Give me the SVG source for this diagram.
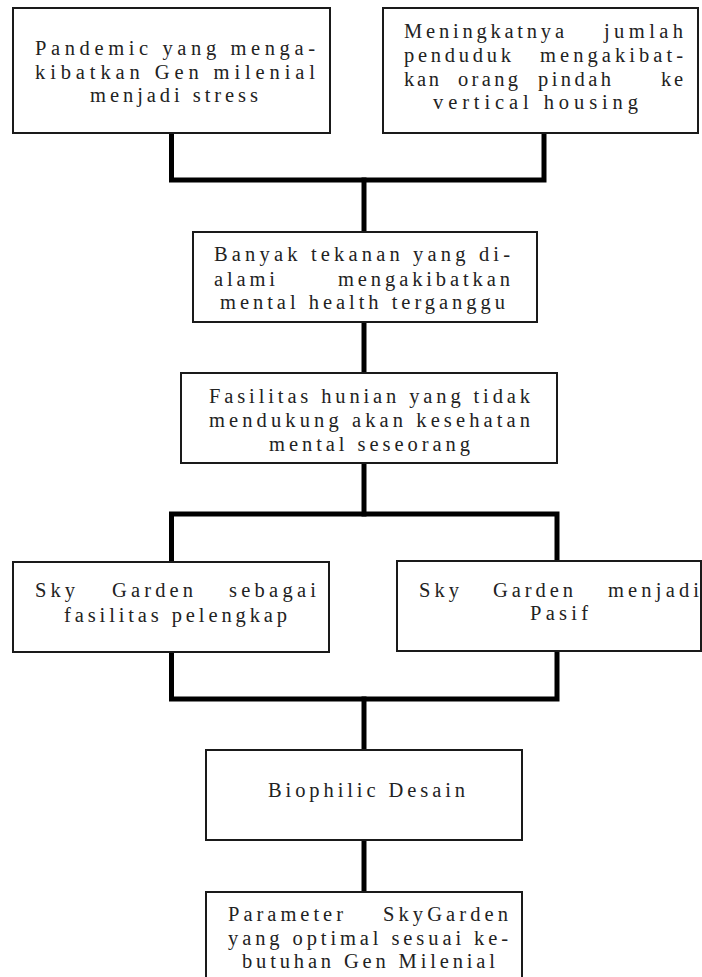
<svg xmlns="http://www.w3.org/2000/svg" width="702" height="977" viewBox="0 0 702 977">
<style>
.box{fill:#fff;stroke:#1a1a1a;stroke-width:2}
.t{font-family:"Liberation Serif","Times New Roman",serif;font-size:20.5px;fill:#222}
.c{fill:none;stroke:#000;stroke-width:5;stroke-linejoin:miter;stroke-linecap:square}
</style>
<rect width="702" height="977" fill="#fff"/>
<g id="connectors">
<polyline class="c" points="171.5,135 171.5,180 544,180 544,135"/>
<line class="c" x1="364" y1="180" x2="364" y2="230"/>
<line class="c" x1="364" y1="324" x2="364" y2="371"/>
<line class="c" x1="364" y1="465" x2="364" y2="514"/>
<polyline class="c" points="171.5,560 171.5,514 557,514 557,559"/>
<polyline class="c" points="171.5,654 171.5,699 557,699 557,653"/>
<line class="c" x1="364" y1="699" x2="364" y2="748"/>
<line class="c" x1="364" y1="842" x2="364" y2="890"/>
</g>
<g id="n1">
<rect class="box" x="13" y="8" width="317" height="125"/>
<text class="t" x="35" y="55" textLength="280" lengthAdjust="spacing">Pandemic yang menga-</text>
<text class="t" x="35" y="79" textLength="280" lengthAdjust="spacing">kibatkan Gen milenial</text>
<text class="t" x="90" y="102" textLength="168" lengthAdjust="spacing">menjadi stress</text>
</g>
<g id="n2">
<rect class="box" x="383" y="8" width="315" height="125"/>
<text class="t" x="404" y="38" textLength="160" lengthAdjust="spacing">Meningkatnya</text>
<text class="t" x="604" y="38" textLength="79" lengthAdjust="spacing">jumlah</text>
<text class="t" x="404" y="62" textLength="107" lengthAdjust="spacing">penduduk</text>
<text class="t" x="540" y="62" textLength="143" lengthAdjust="spacing">mengakibat-</text>
<text class="t" x="404" y="86" textLength="35" lengthAdjust="spacing">kan</text>
<text class="t" x="458" y="86" textLength="60" lengthAdjust="spacing">orang</text>
<text class="t" x="538" y="86" textLength="73" lengthAdjust="spacing">pindah</text>
<text class="t" x="661" y="86" textLength="22" lengthAdjust="spacing">ke</text>
<text class="t" x="433" y="109" textLength="205" lengthAdjust="spacing">vertical housing</text>
</g>
<g id="n3">
<rect class="box" x="193" y="232" width="344" height="90"/>
<text class="t" x="214" y="261" textLength="296" lengthAdjust="spacing">Banyak tekanan yang di-</text>
<text class="t" x="214" y="286" textLength="61" lengthAdjust="spacing">alami</text>
<text class="t" x="338" y="286" textLength="172" lengthAdjust="spacing">mengakibatkan</text>
<text class="t" x="220" y="309" textLength="285" lengthAdjust="spacing">mental health terganggu</text>
</g>
<g id="n4">
<rect class="box" x="181" y="373" width="376" height="90"/>
<text class="t" x="209" y="403" textLength="321" lengthAdjust="spacing">Fasilitas hunian yang tidak</text>
<text class="t" x="209" y="427" textLength="321" lengthAdjust="spacing">mendukung akan kesehatan</text>
<text class="t" x="269" y="451" textLength="201" lengthAdjust="spacing">mental seseorang</text>
</g>
<g id="n5">
<rect class="box" x="13" y="562" width="316" height="90"/>
<text class="t" x="35" y="597" textLength="40" lengthAdjust="spacing">Sky</text>
<text class="t" x="112" y="597" textLength="81" lengthAdjust="spacing">Garden</text>
<text class="t" x="229" y="597" textLength="87" lengthAdjust="spacing">sebagai</text>
<text class="t" x="64" y="622" textLength="223" lengthAdjust="spacing">fasilitas pelengkap</text>
</g>
<g id="n6">
<rect class="box" x="397" y="561" width="304" height="90"/>
<text class="t" x="419" y="597" textLength="40" lengthAdjust="spacing">Sky</text>
<text class="t" x="493" y="597" textLength="80" lengthAdjust="spacing">Garden</text>
<text class="t" x="608" y="597" textLength="91" lengthAdjust="spacing">menjadi</text>
<text class="t" x="530" y="620" textLength="58" lengthAdjust="spacing">Pasif</text>
</g>
<g id="n7">
<rect class="box" x="206" y="750" width="316" height="90"/>
<text class="t" x="268" y="797" textLength="197" lengthAdjust="spacing">Biophilic Desain</text>
</g>
<g id="n8">
<rect class="box" x="206" y="892" width="316" height="90"/>
<text class="t" x="228" y="921" textLength="115" lengthAdjust="spacing">Parameter</text>
<text class="t" x="383" y="921" textLength="125" lengthAdjust="spacing">SkyGarden</text>
<text class="t" x="228" y="945" textLength="280" lengthAdjust="spacing">yang optimal sesuai ke-</text>
<text class="t" x="242" y="968" textLength="253" lengthAdjust="spacing">butuhan Gen Milenial</text>
</g>
</svg>
